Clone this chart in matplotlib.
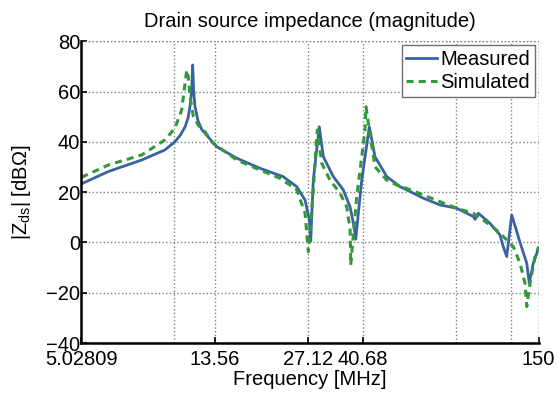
import matplotlib
matplotlib.use("Agg")
import matplotlib.pyplot as plt
from matplotlib.ticker import FixedLocator, NullFormatter

plt.rcParams['font.family'] = ['Liberation Sans', 'DejaVu Sans']
plt.rcParams['mathtext.fontset'] = 'custom'
plt.rcParams['mathtext.rm'] = 'Liberation Sans'
plt.rcParams['mathtext.it'] = 'Liberation Sans:italic'

# Measured curve (frequency in MHz, magnitude in dBOhm)
meas_f = [5.028, 6.14, 7.87, 9.35, 10.08, 10.5, 10.86, 11.1, 11.26, 11.4, 11.49,
          11.58, 11.69, 11.95, 12.28, 12.88,
          13.73, 15.94, 18.95, 22.47, 24.88, 26.47, 27.33, 27.61, 28.14, 29.43,
          30.32, 32.66, 35.17, 36.98, 38.09, 38.57, 40.33, 42.67, 44.5, 48.56,
          53.6, 56.35, 63.72, 72.14, 81.66, 92.4, 93.56, 95.9, 104.6, 112.6,
          115.4, 118.4, 122.9, 130.7, 137.4, 140.0, 144.2, 150.0]
meas_db = [23.3, 28.2, 32.8, 36.8, 40.1, 42.8, 46.0, 49.5, 54.0, 60.0, 70.6,
           60.0, 54.0, 48.5, 45.0, 42.0,
           38.1, 33.5, 29.5, 26.2, 22.2, 16.9, 8.9, 0.5, 24.8, 46.0,
           34.1, 26.2, 20.9, 14.2, 6.3, 1.3, 24.8, 46.0, 34.1, 26.2,
           22.2, 20.9, 17.6, 14.9, 13.6, 10.3, 9.2, 11.6, 7.6, 3.0,
           -1.7, -5.6, 10.9, 0.0, -8.3, -16.2, -8.3, -2.3]

# Simulated curve
sim_f = [5.028, 6.14, 7.87, 9.35, 10.08, 10.59, 10.86, 10.99, 11.12, 11.27, 11.55,
         12.0, 12.59, 13.39, 15.94, 18.95, 21.98, 24.88, 26.47, 27.13, 28.14, 28.72,
         29.0, 29.96, 31.87, 34.32, 36.08, 37.0, 37.16, 38.86, 40.33, 41.32, 41.63,
         42.36, 44.5, 48.56, 53.6, 56.35, 63.72, 72.14, 81.66, 92.4, 104.6,
         112.6, 124.3, 130.7, 135.6, 137.4, 140.8, 146.1, 150.0]
sim_db = [25.9, 30.8, 34.8, 40.8, 45.5, 52.7, 63.4, 68.6, 66.0, 58.0, 50.0,
          46.5, 44.0, 39.4, 32.8, 28.8, 25.5, 21.0, 11.6, -3.7, 20.9, 38.0,
          44.7, 31.5, 24.8, 19.6, 14.2, 5.0, -9.0, 18.2, 34.1, 44.7, 54.0,
          47.4, 30.1, 24.8, 22.2, 21.5, 18.9, 16.2, 13.6, 11.6, 7.0,
          3.7, -1.7, -8.3, -16.2, -25.5, -16.2, -5.6, -1.7]

xtick_vals = [5.02809, 13.56, 27.12, 40.68, 150]
xtick_labels = ['5.02809', '13.56', '27.12', '40.68', '150']
xgrid_extra = [10, 81.36, 122.04]
ytick_vals = [-40, -20, 0, 20, 40, 60, 80]

fig = plt.figure(figsize=(5.58, 3.96), dpi=100)
ax = fig.add_axes([0.1459, 0.1338, 0.8193, 0.7619])

ax.plot(meas_f, meas_db, color='#3a62a0', lw=2.0, label='Measured')
ax.plot(sim_f, sim_db, color='#2f9a3a', lw=2.2, ls=(0, (2.3, 1.7)), label='Simulated')

ax.set_xscale('log')
ax.set_xlim(5.02809, 150)
ax.set_ylim(-40, 80)
ax.xaxis.set_major_locator(FixedLocator(xtick_vals))
ax.set_xticklabels(xtick_labels)
ax.xaxis.set_minor_locator(FixedLocator(xgrid_extra))
ax.xaxis.set_minor_formatter(NullFormatter())
ax.set_yticks(ytick_vals)

ax.grid(True, which='both', ls=':', color='#808080', lw=1.0)
ax.set_axisbelow(True)

for s in ['top', 'right']:
    ax.spines[s].set_visible(False)
for s in ['left', 'bottom']:
    ax.spines[s].set_linewidth(1.8)
ax.tick_params(axis='both', which='major', direction='in', length=4, width=1.2,
               labelsize=14.5, pad=1)
ax.tick_params(axis='x', which='major', pad=5)
ax.tick_params(axis='x', which='minor', direction='in', length=0)

# top/right dotted grid borders
ax.axhline(80, ls=':', color='#808080', lw=1.0)
ax.axvline(150, ls=':', color='#808080', lw=1.0)

ax.set_title('Drain source impedance (magnitude)', fontsize=14.5, pad=10)
ax.set_xlabel('Frequency [MHz]', fontsize=14.5, labelpad=1)
ax.set_ylabel(r'|Z$_{\mathrm{ds}}$| [dBΩ]', fontsize=14.5, labelpad=9)

leg = ax.legend(loc='upper right', fontsize=14.5, frameon=True, fancybox=False,
                handlelength=1.55, handletextpad=0.15, borderpad=0.22,
                labelspacing=0.22, borderaxespad=0.2)
leg.get_frame().set_edgecolor('#707070')
leg.get_frame().set_linewidth(1.0)
leg.get_frame().set_alpha(1)

fig.savefig('out.png', dpi=100)
